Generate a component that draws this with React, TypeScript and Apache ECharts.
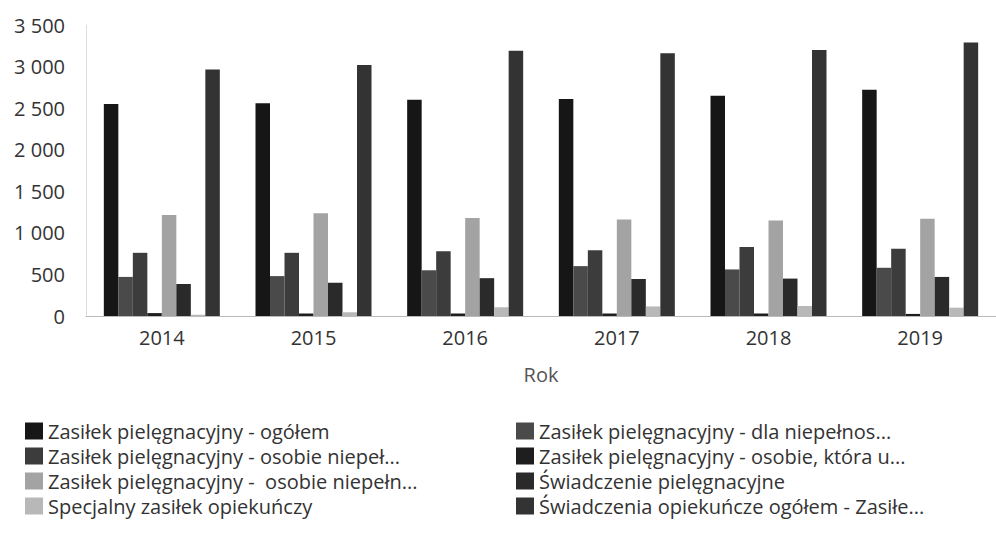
import React, { useEffect, useRef } from "react";
import * as echarts from "echarts";

const years = ["2014", "2015", "2016", "2017", "2018", "2019"];

const seriesNames = [
  "Zasiłek pielęgnacyjny - ogółem",
  "Zasiłek pielęgnacyjny - dla niepełnos...",
  "Zasiłek pielęgnacyjny - osobie niepeł...",
  "Zasiłek pielęgnacyjny - osobie, która u...",
  "Zasiłek pielęgnacyjny -  osobie niepełn...",
  "Świadczenie pielęgnacyjne",
  "Specjalny zasiłek opiekuńczy",
  "Świadczenia opiekuńcze ogółem - Zasiłe...",
];

const ogolem = [2550, 2560, 2600, 2610, 2650, 2720];
const dlaNiepelnosprawnego = [470, 480, 550, 600, 560, 580];
const osobieNiepel = [760, 760, 780, 790, 830, 810];
const osobieKtora = [35, 30, 30, 30, 30, 25];
const osobieNiepeln = [1215, 1235, 1180, 1160, 1150, 1170];
const swiadczeniePiel = [385, 400, 455, 445, 450, 470];
const specjalny = [15, 45, 105, 115, 120, 100];
const opiekunczeOgolem = [2965, 3020, 3190, 3160, 3200, 3290];

const seriesData = [
  ogolem,
  dlaNiepelnosprawnego,
  osobieNiepel,
  osobieKtora,
  osobieNiepeln,
  swiadczeniePiel,
  specjalny,
  opiekunczeOgolem,
];

const colors = [
  "#161616",
  "#4a4a4a",
  "#3c3c3c",
  "#1e1e1e",
  "#a3a3a3",
  "#2a2a2a",
  "#b8b8b8",
  "#333333",
];

export default function App() {
  const ref = useRef<HTMLDivElement>(null);
  useEffect(() => {
    document.body.style.margin = "0";
    if (!ref.current) return;
    const chart = echarts.init(ref.current, undefined, { renderer: "svg" });
    const font = "'Open Sans', sans-serif";
    const legendCommon = {
      orient: "vertical",
      top: 421,
      height: 115,
      padding: 0,
      itemWidth: 18,
      itemHeight: 17,
      itemGap: 5,
      icon: "rect",
      selectedMode: false,
      textStyle: { fontFamily: font, fontSize: 20, color: "#333", lineHeight: 20 },
    };
    chart.setOption({
      animation: false,
      color: colors,
      textStyle: { fontFamily: font },
      grid: { left: 86, right: -6, top: 25, bottom: 220, containLabel: false },
      legend: [
        { ...legendCommon, left: 25, data: [seriesNames[0], seriesNames[2], seriesNames[4], seriesNames[6]] },
        { ...legendCommon, left: 516, data: [seriesNames[1], seriesNames[3], seriesNames[5], seriesNames[7]] },
      ],
      xAxis: {
        type: "category",
        data: years,
        name: "Rok",
        nameLocation: "middle",
        nameGap: 48,
        nameTextStyle: { fontFamily: font, fontSize: 20, color: "#555" },
        axisLine: { lineStyle: { color: "#bbb" } },
        axisTick: { show: false },
        axisLabel: { fontFamily: font, fontSize: 20, color: "#333", margin: 11 },
      },
      yAxis: {
        type: "value",
        min: 0,
        max: 3500,
        interval: 500,
        axisLine: { show: true, lineStyle: { color: "#ddd" } },
        axisTick: { show: false },
        splitLine: { show: false },
        axisLabel: {
          fontFamily: font,
          fontSize: 20,
          color: "#333",
          margin: 21,
          formatter: (v: number) =>
            v >= 1000 ? `${Math.floor(v / 1000)} ${String(v % 1000).padStart(3, "0")}` : String(v),
        },
      },
      series: seriesNames.map((name, i) => ({
        name,
        type: "bar",
        data: seriesData[i],
        barWidth: 14.5,
        barGap: "0%",
        itemStyle: { color: colors[i] },
      })),
    });
    return () => chart.dispose();
  }, []);
  return <div ref={ref} style={{ width: 996, height: 536 }} />;
}
